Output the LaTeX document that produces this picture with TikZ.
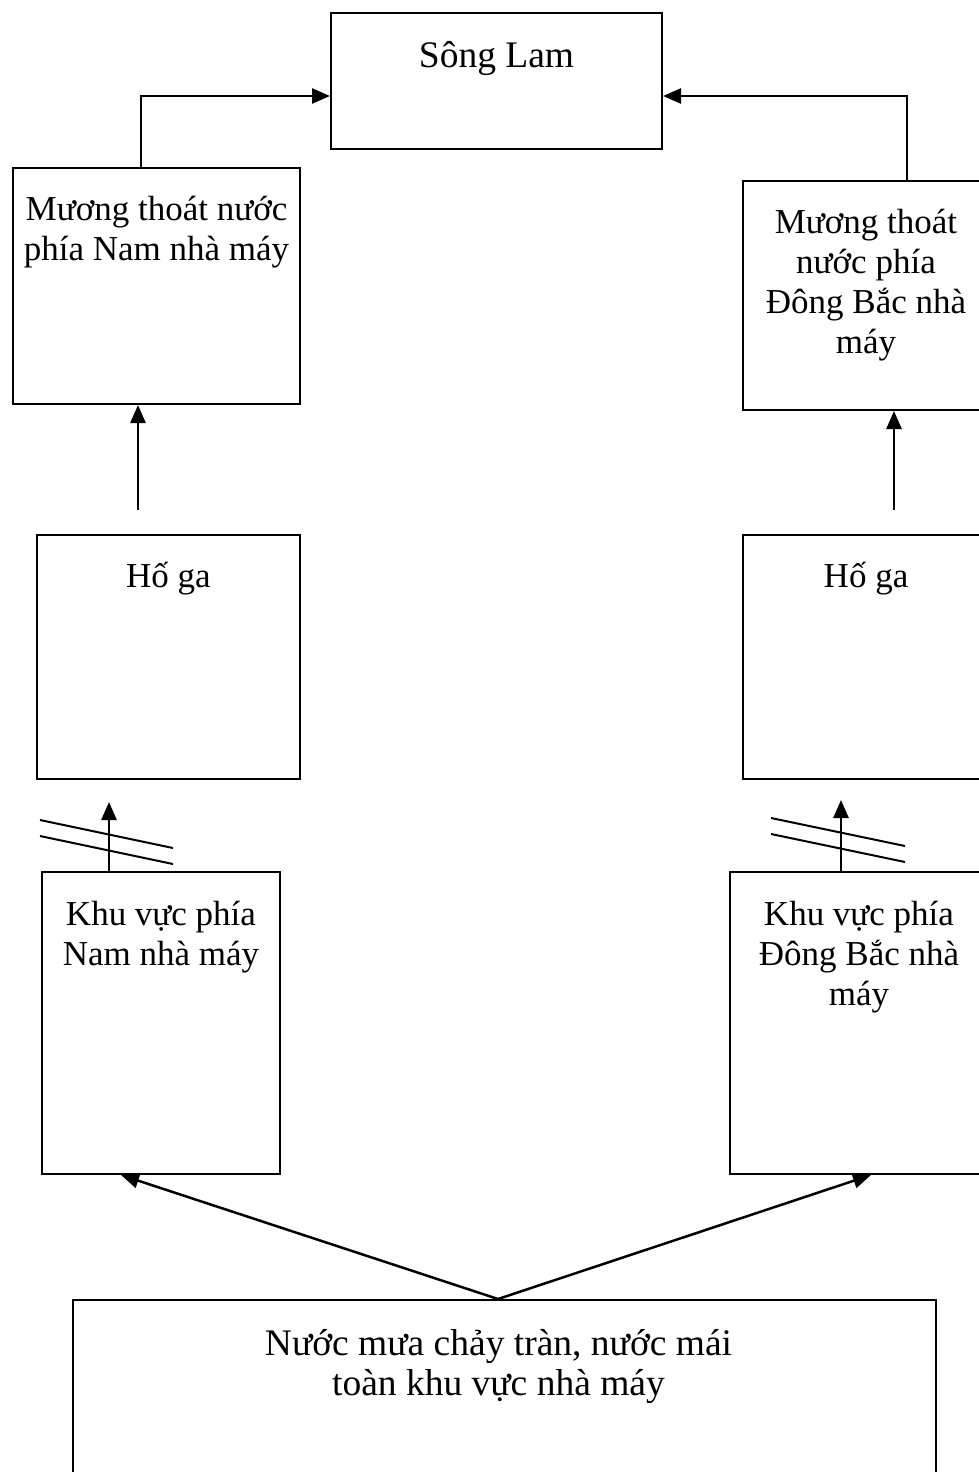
\documentclass[tikz,border=0pt]{standalone}
\usepackage{fontspec}
\setmainfont{Liberation Serif}
\usetikzlibrary{arrows.meta}

\tikzset{
    box/.style={draw, line width=2pt, inner sep=0pt, anchor=north west},
    txt/.style={anchor=base, align=center, inner sep=0pt,
        font=\fontsize{35}{40}\selectfont},
    bigtxt/.style={txt, font=\fontsize{37.5}{40}\selectfont},
    arr/.style={line width=2.5pt, -{Triangle[length=18pt,width=15pt]}},
    tick/.style={line width=2pt}
}

\begin{document}
\begin{tikzpicture}[x=1pt, y=-1pt]
    \useasboundingbox (0,0) rectangle (979,1472);

    % boxes
    \node[box, minimum width=331, minimum height=136] (song) at (330,12) {};
    \node[box, minimum width=287, minimum height=236] (mlNam) at (12,167) {};
    \node[box, minimum width=246, minimum height=229] (mlDB) at (742,180) {};
    \node[box, minimum width=263, minimum height=244] (hgNam) at (36,534) {};
    \node[box, minimum width=246, minimum height=244] (hgDB) at (742,534) {};
    \node[box, minimum width=238, minimum height=302] (kvNam) at (41,871) {};
    \node[box, minimum width=258, minimum height=302] (kvDB) at (729,871) {};
    \node[box, minimum width=863, minimum height=200] (mua) at (72,1299) {};

    % texts (base = last line)
    \node[bigtxt] (tSong) at ([yshift=-55]song.north) {Sông Lam};
    \node[txt] (tmlNam) at ([yshift=-93]mlNam.north) {Mương thoát nước\\phía Nam nhà máy};
    \node[txt] (tmlDB) at ([yshift=-173]mlDB.north) {Mương thoát\\nước phía\\Đông Bắc nhà\\máy};
    \node[txt] (thgNam) at ([yshift=-53]hgNam.north) {Hố ga};
    \node[txt] (thgDB) at ([yshift=-53]hgDB.north) {Hố ga};
    \node[txt] (tkvNam) at ([yshift=-94]kvNam.north) {Khu vực phía\\Nam nhà máy};
    \node[txt] (tkvDB) at ([yshift=-134]kvDB.north) {Khu vực phía\\Đông Bắc nhà\\máy};
    \node[bigtxt] (tmua) at ([xshift=-6,yshift=-96]mua.north) {Nước mưa chảy tràn, nước mái\\toàn khu vực nhà máy};

    % to the river
    \draw[arr] ([xshift=-15.5]mlNam.north) |- ([yshift=-15]song.west);
    \draw[arr] ([xshift=41]mlDB.north) |- ([yshift=-15]song.east);

    % ho ga -> muong
    \coordinate (sNam) at ([xshift=-30.5,yshift=24]hgNam.north);
    \coordinate (sDB) at ([xshift=28,yshift=24]hgDB.north);
    \draw[arr] (sNam) -- (sNam |- mlNam.south);
    \draw[arr] (sDB) -- (sDB |- mlDB.south);

    % khu vuc -> ho ga
    \coordinate (eNam) at ([xshift=-59.5,yshift=-22]hgNam.south);
    \coordinate (eDB) at ([xshift=-25,yshift=-20]hgDB.south);
    \draw[arr] (kvNam.north -| eNam) -- (eNam);
    \draw[arr] (kvDB.north -| eDB) -- (eDB);

    % slash marks
    \draw[tick] (40,820) -- (173,848);
    \draw[tick] (40,836) -- (173,864);
    \draw[tick] (771,818) -- (905,846);
    \draw[tick] (771,834) -- (905,862);

    % rain water
    \draw[arr] ([xshift=-6.5]mua.north) -- ([xshift=-40]kvNam.south);
    \draw[arr] ([xshift=-6.5]mua.north) -- ([xshift=12]kvDB.south);
\end{tikzpicture}
\end{document}
